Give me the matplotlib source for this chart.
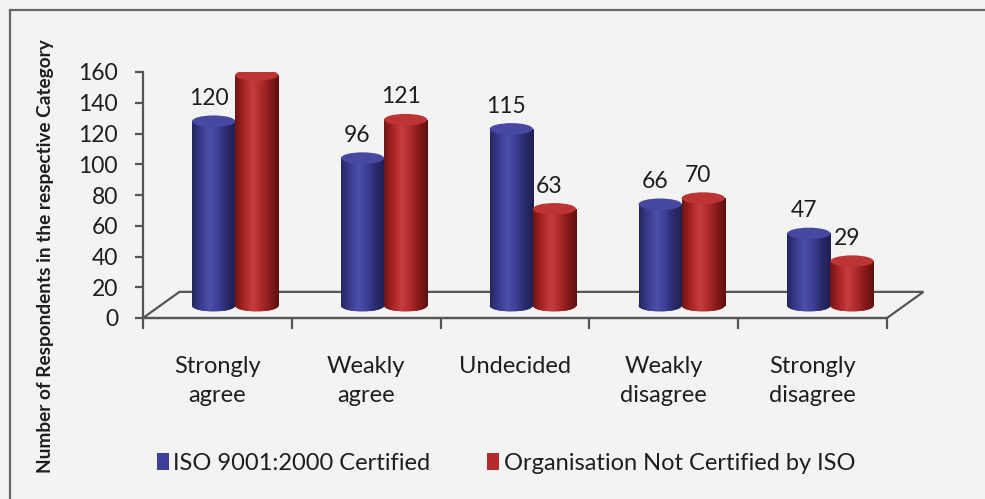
import numpy as np
import matplotlib
matplotlib.use("Agg")
import matplotlib.pyplot as plt
from matplotlib.patches import Ellipse, Patch, Polygon
from matplotlib.colors import LinearSegmentedColormap

# ---- data ----
categories = ["Strongly\nagree", "Weakly\nagree", "Undecided", "Weakly\ndisagree", "Strongly\ndisagree"]
series_names = ["ISO 9001:2000 Certified", "Organisation Not Certified by ISO"]
iso_certified = [120, 96, 115, 66, 47]
not_certified = [150, 121, 63, 70, 29]
y_ticks = [0, 20, 40, 60, 80, 100, 120, 140, 160]
y_label = "Number of Respondents in the respective Category"

# ---- style ----
W, H = 985, 499
plt.rcParams['font.family'] = ['Lato', 'DejaVu Sans']
bg = '#f3f3f1'
axis_col = '#555555'
txt = '#1e1e1e'
blue_stops = ['#26265e', '#3a3b90', '#4d4fa8', '#3d3e96', '#2a2a6a', '#1f1f50']
red_stops = ['#6e1414', '#a82424', '#c53e3e', '#ae2a2a', '#861a1a', '#5e1010']
blue_top = '#4748a2'
red_top = '#bd3434'

fig = plt.figure(figsize=(W / 100, H / 100), dpi=100)
fig.patch.set_facecolor(bg)

# outer frame (left & top edges visible)
fig.add_artist(plt.Line2D([10 / W, 10 / W], [0, 1 - 10 / H], color='#666666', lw=1.6))
fig.add_artist(plt.Line2D([10 / W, 1], [1 - 10 / H, 1 - 10 / H], color='#666666', lw=1.6))

ax = fig.add_axes([143 / W, (H - 318) / H, (887 - 143) / W, (318 - 72) / H])
ax.patch.set_alpha(0)

n = len(categories)
depth_x, depth_y = 0.245, 17
base = 8
bw = 0.29
shift = 0.12
eh = 7.5

# 3D floor
floor = Polygon([[0, 0], [depth_x, depth_y], [n + depth_x, depth_y], [n, 0]], closed=True,
                facecolor='none', edgecolor=axis_col, lw=1.6, zorder=1, clip_on=False)
ax.add_patch(floor)

def cylinder(xc, val, stops, topc, label):
    bar = ax.bar([xc], [val], bw, bottom=base, color=stops[2], zorder=3, linewidth=0)[0]
    cmap = LinearSegmentedColormap.from_list('c', stops)
    grad = np.linspace(0, 1, 200).reshape(1, -1)
    im = ax.imshow(grad, cmap=cmap, extent=[xc - bw / 2, xc + bw / 2, base, base + val],
                   aspect='auto', zorder=3.1, origin='lower')
    im.set_clip_path(bar)
    # bottom cap
    bot = Ellipse((xc, base), bw, eh, facecolor=stops[1], edgecolor='none', zorder=2.9)
    ax.add_patch(bot)
    imb = ax.imshow(grad, cmap=cmap, extent=[xc - bw / 2, xc + bw / 2, base - eh / 2, base],
                    aspect='auto', zorder=3.05, origin='lower')
    imb.set_clip_path(bot)
    top = Ellipse((xc, base + val), bw, eh, facecolor=topc, edgecolor='none', zorder=3.2)
    ax.add_patch(top)
    ax.annotate(str(label), xy=(xc, base + val + eh / 2), xytext=(-5, 17),
                textcoords='offset pixels', ha='center', va='center',
                fontsize=16.5, color=txt, zorder=5)

for i in range(n):
    cx = i + 0.5 + shift
    cylinder(cx - bw / 2, iso_certified[i], blue_stops, blue_top, iso_certified[i])
    cylinder(cx + bw / 2, not_certified[i], red_stops, red_top, not_certified[i])

ax.set_xlim(0, n)
ax.set_ylim(0, 160)
for s in ['top', 'right']:
    ax.spines[s].set_visible(False)
for s in ['left', 'bottom']:
    ax.spines[s].set_color(axis_col)
    ax.spines[s].set_linewidth(1.6)
ax.set_yticks(y_ticks)
ax.set_yticklabels([str(t) for t in y_ticks], fontsize=16.5, color=txt)
ax.set_xticks(range(n + 1))
ax.set_xticklabels([''] * (n + 1))
ax.set_xticks([i + 0.5 for i in range(n)], minor=True)
ax.set_xticklabels(categories, minor=True, fontsize=17, color=txt, linespacing=1.45)
ax.tick_params(axis='x', which='major', length=8, width=1.6, color=axis_col, direction='out')
ax.tick_params(axis='x', which='minor', length=0, pad=27.5)
ax.tick_params(axis='y', length=6, width=1.6, color=axis_col, direction='out', pad=12)

fig.text(46 / W, 1 - 256 / H, y_label, rotation=90, ha='center', va='center',
         fontsize=13.7, fontweight='bold', color=txt)

handles = [Patch(facecolor='#3e3f98', edgecolor='none'), Patch(facecolor='#b32a2b', edgecolor='none')]
fig.legend(handles, series_names, loc='center', bbox_to_anchor=(506 / W, 1 - 463 / H), ncol=2,
           frameon=False, fontsize=17, handlelength=0.5, handleheight=0.7, handletextpad=0.2,
           columnspacing=2.4, labelcolor=txt)

fig.savefig('out.png', dpi=100, facecolor=bg)
